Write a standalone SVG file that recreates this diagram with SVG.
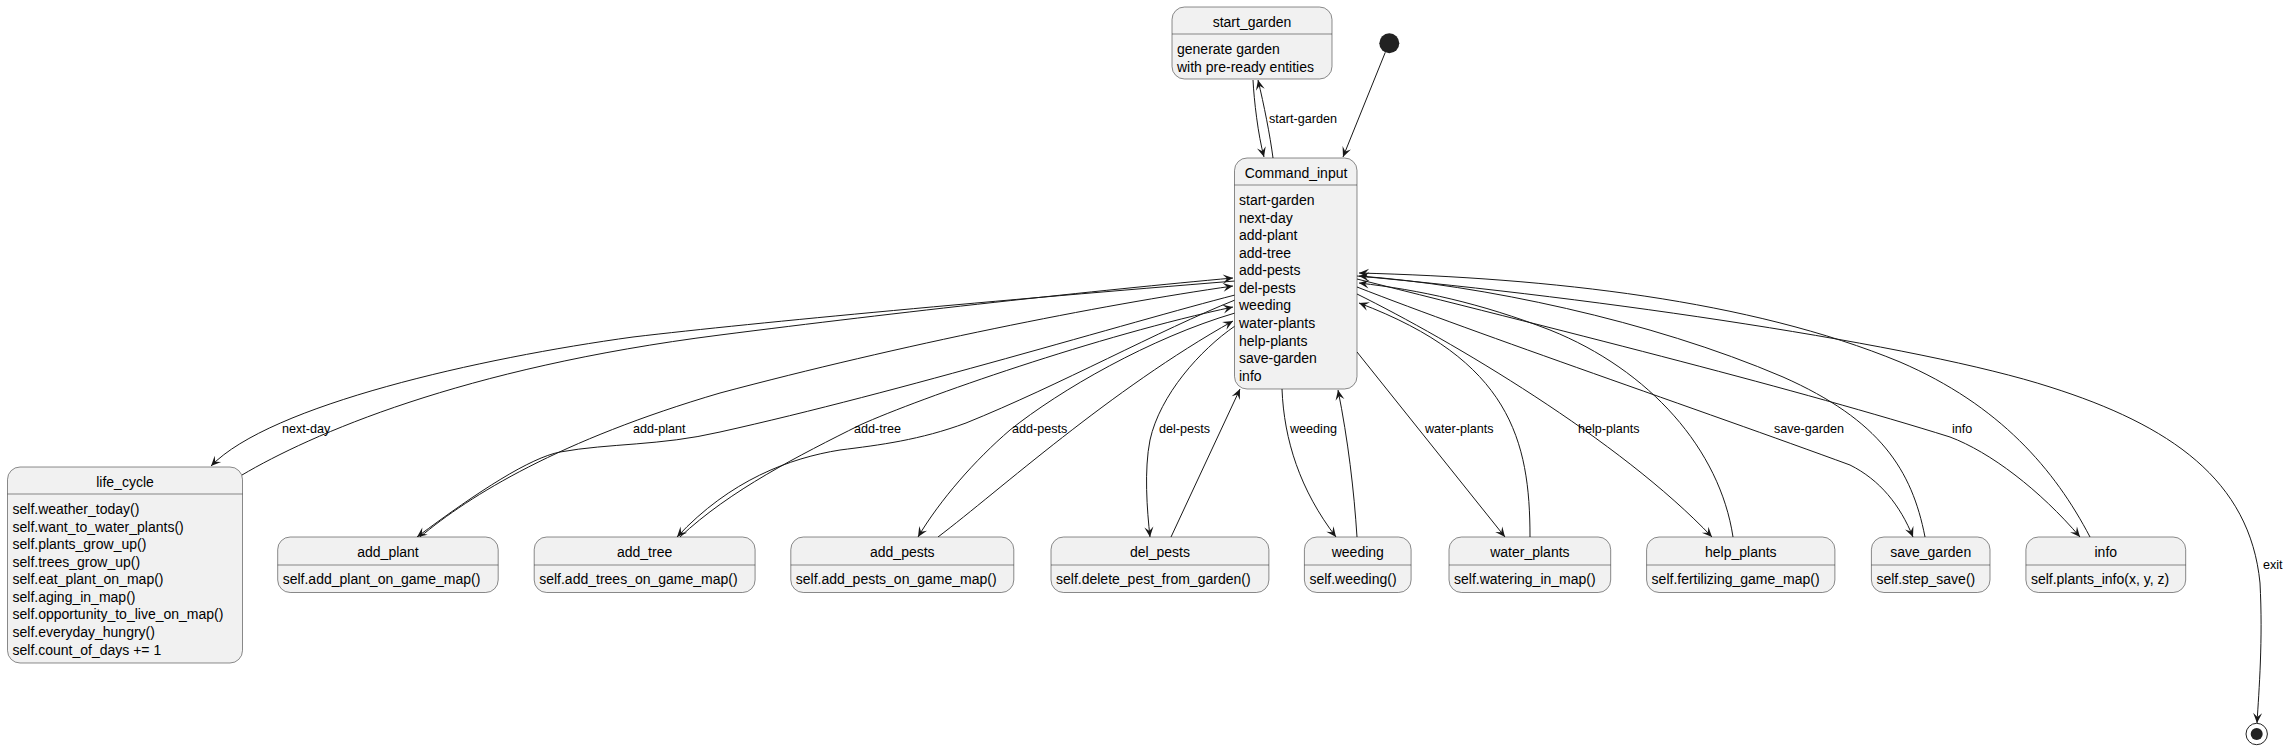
<svg xmlns="http://www.w3.org/2000/svg" width="2290" height="749" viewBox="0 0 2290 749">
<style>
.box{fill:#F1F1F1;stroke:#181818;stroke-width:0.5}
.div{stroke:#181818;stroke-width:0.5}
.t{font-family:"Liberation Sans",Arial,sans-serif;font-size:14px;fill:#000}
.tc{text-anchor:middle}
.lbl{font-family:"Liberation Sans",Arial,sans-serif;font-size:12.6px;fill:#000}
.e{fill:none;stroke:#181818;stroke-width:1}
.a{marker-end:url(#ah)}
</style>
<defs>
<marker id="ah" viewBox="-11 -6 12 12" refX="0" refY="0" markerWidth="12" markerHeight="12" orient="auto" markerUnits="userSpaceOnUse">
<path d="M0,0 L-10,-4.5 L-6,0 L-10,4.5 Z" fill="#181818"/>
</marker>
</defs>
<rect width="2290" height="749" fill="#FFFFFF"/>

<g id="edges">
<path class="e a" d="M1385.3,52.3 L1343,157"/>
<path class="e a" d="M1253,80 C1254,100 1258,135 1264,157"/>
<path class="e a" d="M1273,158 C1270,135 1264,105 1258,80"/>
<path class="e a" d="M1235,281 C1000,300 760,322 633,337 C480,358 270,405 211,466"/>
<path class="e a" d="M242,475 C310,435 460,368 720,335 C900,312 1100,290 1233,278"/>
<path class="e a" d="M1235,295 C1130,322 900,392 720,432 C660,446 610,443 560,452 C530,458 480,490 417,537"/>
<path class="e a" d="M420,537 C470,495 560,440 720,393 C900,345 1100,305 1233,286"/>
<path class="e a" d="M1235,300 C1160,330 1060,385 966,423 C920,440 880,445 840,450 C790,458 730,480 677,537"/>
<path class="e a" d="M680,537 C730,490 800,455 860,425 C920,398 1100,335 1233,307"/>
<path class="e a" d="M1235,313 C1150,338 1060,390 1010,430 C975,460 940,500 918,537"/>
<path class="e a" d="M938,537 C1000,490 1110,390 1233,321"/>
<path class="e a" d="M1235,326 C1200,350 1160,395 1150,440 C1144,470 1147,510 1150,537"/>
<path class="e a" d="M1171,537 L1240,389"/>
<path class="e a" d="M1282,389 C1284,440 1300,490 1336,537"/>
<path class="e a" d="M1357,537 C1354,490 1348,440 1338,390"/>
<path class="e a" d="M1357,352 L1505,537"/>
<path class="e a" d="M1530,537 C1530,440 1510,360 1359,303"/>
<path class="e a" d="M1357,294 C1450,340 1620,440 1712,537"/>
<path class="e a" d="M1733,537 C1720,450 1650,370 1550,330 C1480,303 1420,290 1359,283"/>
<path class="e a" d="M1357,287 C1480,335 1700,410 1850,465 C1880,480 1900,505 1913,537"/>
<path class="e a" d="M1925,537 C1912,470 1880,420 1783,377 C1650,320 1480,285 1359,276"/>
<path class="e a" d="M1357,279 C1580,335 1800,390 1950,437 C1990,452 2040,490 2080,537"/>
<path class="e a" d="M2090,537 C2055,470 2000,405 1900,362 C1750,300 1550,278 1359,273"/>
<path class="e a" d="M1357,276 C1600,298 1920,345 2050,387 C2170,425 2250,480 2260,583 C2263,640 2259,690 2257,723"/>
<text class="lbl" x="1269" y="123">start-garden</text>
<text class="lbl" x="282" y="433">next-day</text>
<text class="lbl" x="633" y="433">add-plant</text>
<text class="lbl" x="854" y="433">add-tree</text>
<text class="lbl" x="1012" y="433">add-pests</text>
<text class="lbl" x="1159" y="433">del-pests</text>
<text class="lbl" x="1290" y="433">weeding</text>
<text class="lbl" x="1425" y="433">water-plants</text>
<text class="lbl" x="1578" y="433">help-plants</text>
<text class="lbl" x="1774" y="433">save-garden</text>
<text class="lbl" x="1952" y="433">info</text>
<text class="lbl" x="2263" y="569">exit</text>
</g>

<g id="start">
<circle cx="1389.3" cy="43.3" r="10" fill="#222222"/>
</g>

<g id="end">
<circle cx="2256.7" cy="734" r="10.7" fill="none" stroke="#222222" stroke-width="1"/>
<circle cx="2256.7" cy="734" r="6" fill="#222222"/>
</g>

<g id="start_garden">
<rect class="box" x="1172" y="7" width="160" height="72" rx="12.5"/>
<line class="div" x1="1172" y1="34" x2="1332" y2="34"/>
<text class="t tc" x="1252" y="27">start_garden</text>
<text class="t" x="1177" y="54">generate garden</text>
<text class="t" x="1177" y="71.6">with pre-ready entities</text>
</g>

<g id="Command_input">
<rect class="box" x="1234.5" y="158" width="122.5" height="231" rx="12.5"/>
<line class="div" x1="1234.5" y1="185" x2="1357" y2="185"/>
<text class="t tc" x="1296" y="178">Command_input</text>
<text class="t" x="1239" y="205">start-garden</text>
<text class="t" x="1239" y="222.6">next-day</text>
<text class="t" x="1239" y="240.1">add-plant</text>
<text class="t" x="1239" y="257.7">add-tree</text>
<text class="t" x="1239" y="275.3">add-pests</text>
<text class="t" x="1239" y="292.9">del-pests</text>
<text class="t" x="1239" y="310.4">weeding</text>
<text class="t" x="1239" y="328">water-plants</text>
<text class="t" x="1239" y="345.6">help-plants</text>
<text class="t" x="1239" y="363.1">save-garden</text>
<text class="t" x="1239" y="380.7">info</text>
</g>

<g id="life_cycle">
<rect class="box" x="7.5" y="467" width="235" height="196" rx="12.5"/>
<line class="div" x1="7.5" y1="494" x2="242.5" y2="494"/>
<text class="t tc" x="125" y="487">life_cycle</text>
<text class="t" x="12.5" y="514">self.weather_today()</text>
<text class="t" x="12.5" y="531.6">self.want_to_water_plants()</text>
<text class="t" x="12.5" y="549.1">self.plants_grow_up()</text>
<text class="t" x="12.5" y="566.7">self.trees_grow_up()</text>
<text class="t" x="12.5" y="584.3">self.eat_plant_on_map()</text>
<text class="t" x="12.5" y="601.9">self.aging_in_map()</text>
<text class="t" x="12.5" y="619.4">self.opportunity_to_live_on_map()</text>
<text class="t" x="12.5" y="637">self.everyday_hungry()</text>
<text class="t" x="12.5" y="654.6">self.count_of_days += 1</text>
</g>

<g id="add_plant">
<rect class="box" x="277.7" y="537" width="220.5" height="55.5" rx="12.5"/>
<line class="div" x1="277.7" y1="565" x2="498.2" y2="565"/>
<text class="t tc" x="388" y="557">add_plant</text>
<text class="t" x="282.7" y="584">self.add_plant_on_game_map()</text>
</g>

<g id="add_tree">
<rect class="box" x="534.2" y="537" width="220.9" height="55.5" rx="12.5"/>
<line class="div" x1="534.2" y1="565" x2="755.1" y2="565"/>
<text class="t tc" x="644.6" y="557">add_tree</text>
<text class="t" x="539.2" y="584">self.add_trees_on_game_map()</text>
</g>

<g id="add_pests">
<rect class="box" x="790.8" y="537" width="223" height="55.5" rx="12.5"/>
<line class="div" x1="790.8" y1="565" x2="1013.8" y2="565"/>
<text class="t tc" x="902.3" y="557">add_pests</text>
<text class="t" x="795.8" y="584">self.add_pests_on_game_map()</text>
</g>

<g id="del_pests">
<rect class="box" x="1051" y="537" width="217.9" height="55.5" rx="12.5"/>
<line class="div" x1="1051" y1="565" x2="1268.9" y2="565"/>
<text class="t tc" x="1160" y="557">del_pests</text>
<text class="t" x="1056" y="584">self.delete_pest_from_garden()</text>
</g>

<g id="weeding">
<rect class="box" x="1304.4" y="537" width="106.7" height="55.5" rx="12.5"/>
<line class="div" x1="1304.4" y1="565" x2="1411.1" y2="565"/>
<text class="t tc" x="1357.8" y="557">weeding</text>
<text class="t" x="1309.4" y="584">self.weeding()</text>
</g>

<g id="water_plants">
<rect class="box" x="1449" y="537" width="161.7" height="55.5" rx="12.5"/>
<line class="div" x1="1449" y1="565" x2="1610.7" y2="565"/>
<text class="t tc" x="1529.9" y="557">water_plants</text>
<text class="t" x="1454" y="584">self.watering_in_map()</text>
</g>

<g id="help_plants">
<rect class="box" x="1646.6" y="537" width="188.3" height="55.5" rx="12.5"/>
<line class="div" x1="1646.6" y1="565" x2="1834.9" y2="565"/>
<text class="t tc" x="1740.8" y="557">help_plants</text>
<text class="t" x="1651.6" y="584">self.fertilizing_game_map()</text>
</g>

<g id="save_garden">
<rect class="box" x="1871.4" y="537" width="118.6" height="55.5" rx="12.5"/>
<line class="div" x1="1871.4" y1="565" x2="1990" y2="565"/>
<text class="t tc" x="1930.7" y="557">save_garden</text>
<text class="t" x="1876.4" y="584">self.step_save()</text>
</g>

<g id="info">
<rect class="box" x="2025.9" y="537" width="159.8" height="55.5" rx="12.5"/>
<line class="div" x1="2025.9" y1="565" x2="2185.7" y2="565"/>
<text class="t tc" x="2105.8" y="557">info</text>
<text class="t" x="2030.9" y="584">self.plants_info(x, y, z)</text>
</g>
</svg>
